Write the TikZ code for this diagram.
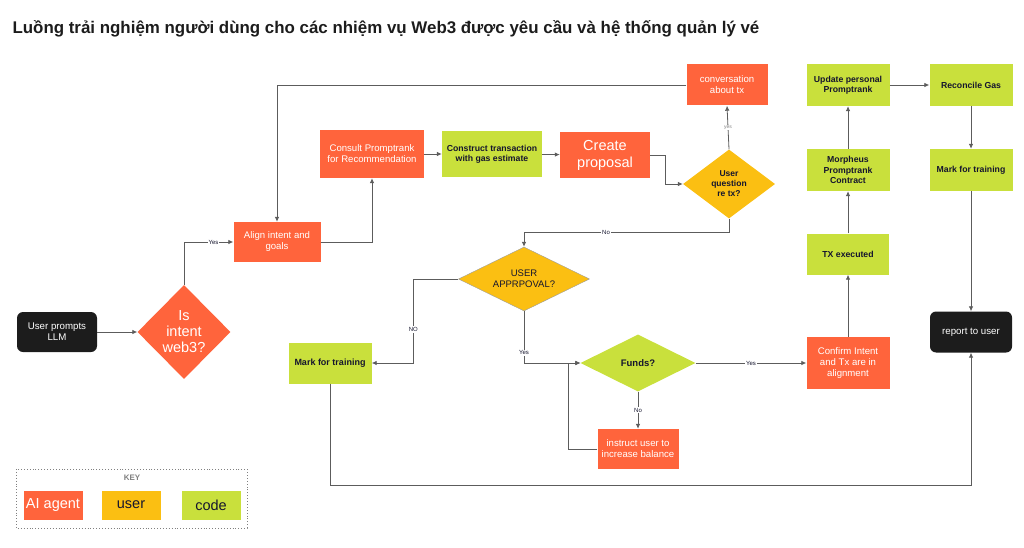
\documentclass[tikz,border=0pt]{standalone}
\usepackage{fontspec}
\setmainfont{Liberation Sans}
\usetikzlibrary{arrows.meta,shapes.geometric}
\definecolor{agent}{HTML}{FF643C}
\definecolor{usr}{HTML}{FBBF12}
\definecolor{code}{HTML}{C9E03C}
\definecolor{term}{HTML}{1C1C1C}
\definecolor{wire}{HTML}{5C5C5C}
\definecolor{ink}{HTML}{15152E}
\tikzset{
  sz/.style 2 args={minimum width=#1pt, minimum height=#2pt},
  base/.style={rectangle, align=center, inner sep=1pt},
  agentbox/.style={base, fill=agent, text=white, font=\fontsize{9.6}{11}\selectfont},
  codebox/.style={base, fill=code, text=ink, font=\bfseries\fontsize{8.7}{10.3}\selectfont},
  termbox/.style={base, fill=term, text=white, rounded corners=6pt, font=\fontsize{9.7}{11}\selectfont},
  decide/.style={diamond, inner sep=0pt},
  wirearrow/.style={draw=wire, line width=0.8pt, -{Latex[length=5pt,width=4.5pt]}},
  elab/.style={fill=white, inner sep=1pt, text=ink, font=\fontsize{6}{6}\selectfont},
  keybox/.style={base, sz={59}{29}, font=\fontsize{14.5}{16}\selectfont}
}
\begin{document}
\begin{tikzpicture}[x=1pt, y=-1pt]
\useasboundingbox (0,0) rectangle (1024,548);
\node[anchor=base west, font=\bfseries\fontsize{16.9}{19}\selectfont, text=term] (title) at (9,34)
  {Luồng trải nghiệm người dùng cho các nhiệm vụ Web3 được yêu cầu và hệ thống quản lý vé};

% boxes
\node[termbox, sz={80}{40}] (prompt) at (57,332) {User prompts\\LLM};
\node[decide, fill=agent, sz={93}{94},
  label={[text=white, align=center, font=\fontsize{14.5}{16}\selectfont]center:Is\\intent\\web3?}] (intent) at (184,332) {};
\node[agentbox, sz={87}{40}] (align) at (277,242) {Align intent and\\goals};
\node[agentbox, sz={104}{48}] (consult) at (372,154) {Consult Promptrank\\for Recommendation};
\node[codebox, sz={100}{45}] (construct) at (492,154) {Construct transaction\\with gas estimate};
\node[agentbox, sz={90}{45}, font=\fontsize{14.5}{17}\selectfont] (proposal) at (605,155) {Create\\proposal};
\node[decide, fill=usr, sz={92}{69},
  label={[text=ink, align=center, font=\bfseries\fontsize{8.5}{10}\selectfont]center:User\\question\\re tx?}] (question) at (729,184) {};
\node[agentbox, sz={81}{41}] (conv) at (727,85) {conversation\\about tx};
\node[decide, fill=usr, draw=wire!60, sz={131}{64},
  label={[text=ink, align=center, font=\fontsize{9.5}{11}\selectfont]center:USER\\APPRPOVAL?}] (approval) at (524,279) {};
\node[codebox, sz={83}{41}, font=\bfseries\fontsize{9}{10}\selectfont] (markA) at (330,363) {Mark for training};
\node[decide, fill=code, sz={115}{57},
  label={[text=ink, font=\bfseries\fontsize{9.5}{11}\selectfont]center:Funds?}] (funds) at (638,363) {};
\node[agentbox, sz={81}{40}] (instruct) at (638,449) {instruct user to\\increase balance};
\node[agentbox, sz={83}{52}] (confirm) at (848,363) {Confirm Intent\\and Tx are in\\alignment};
\node[codebox, sz={82}{41}] (txexec) at (848,254) {TX executed};
\node[codebox, sz={83}{42}] (morpheus) at (848,170) {Morpheus\\Promptrank\\Contract};
\node[codebox, sz={83}{42}] (update) at (848,85) {Update personal\\Promptrank};
\node[codebox, sz={83}{42}] (reconcile) at (971,85) {Reconcile Gas};
\node[codebox, sz={83}{42}] (markB) at (971,170) {Mark for training};
\node[termbox, sz={82}{41}] (report) at (971,332) {report to user};

% connectors
\draw[wirearrow] (prompt) -- (intent);
\draw[wirearrow] (intent.north) |- node[elab, pos=0.8] {Yes} (align.west);
\draw[wirearrow] (align.east) -| (consult.south);
\draw[wirearrow] (consult) -- (construct);
\draw[wirearrow] (construct) -- (proposal);
\draw[wirearrow] (proposal.east) -- ++(15,0) |- (question.west);
\draw[wirearrow] (question.north) -- node[elab, text=gray, font=\fontsize{5}{5}\selectfont] {yes} (conv.south);
\draw[wirearrow] (conv.west) -| (align.north);
\draw[wirearrow] (question.south) -- ++(0,14) -| node[elab, pos=0.3] {No} (approval.north);
\draw[wirearrow] (approval.west) -- ++(-45,0) |- node[elab, pos=0.3] {NO} (markA.east);
\draw[wirearrow] (approval.south) |- node[elab, pos=0.4] {Yes} (funds.west);
\draw[wirearrow] (funds.east) -- node[elab] {Yes} (confirm.west);
\draw[wirearrow] (funds.south) -- node[elab] {No} (instruct.north);
\draw[wirearrow] (instruct.west) -- ++(-29,0) |- (funds.west);
\draw[wirearrow] (markA.south) -- ++(0,102) -| (report.south);
\draw[wirearrow] (confirm) -- (txexec);
\draw[wirearrow] (txexec) -- (morpheus);
\draw[wirearrow] (morpheus) -- (update);
\draw[wirearrow] (update) -- (reconcile);
\draw[wirearrow] (reconcile) -- (markB);
\draw[wirearrow] (markB) -- (report);

% key
\draw[gray, dotted, line width=0.9pt] (16,469) rectangle (247,528);
\node[text=gray, font=\bfseries\fontsize{8}{9}\selectfont] (keytitle) at (132,478) {KEY};
\node[keybox, fill=agent, text=white] (keyagent) at (53,505) {AI agent};
\node[keybox, fill=usr, text=ink] (keyuser) at (131,505) {user};
\node[keybox, fill=code, text=ink] (keycode) at (211,505) {code};
\end{tikzpicture}
\end{document}
